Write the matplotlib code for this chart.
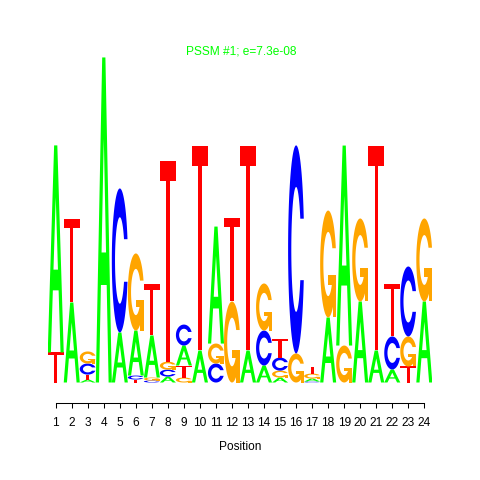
import numpy as np
import matplotlib
matplotlib.use("Agg")
import matplotlib.pyplot as plt

plt.rcParams['font.family'] = ['Liberation Sans', 'DejaVu Sans']

positions = list(range(1, 25))
bits_A = [1.255, 0.485, 0.018, 1.970, 0.303, 0.273, 0.255, 0.036, 0.121, 0.194, 0.709, 0.0,
          0.194, 0.103, 0.030, 0.0, 0.018, 0.394, 1.212, 0.491, 0.194, 0.079, 0.0, 0.491]
bits_C = [0.0, 0.0, 0.067, 0.0, 0.873, 0.024, 0.012, 0.042, 0.127, 0.0, 0.115, 0.0,
          0.0, 0.212, 0.079, 1.261, 0.006, 0.0, 0.0, 0.0, 0.0, 0.200, 0.424, 0.0]
bits_G = [0.0, 0.0, 0.073, 0.0, 0.0, 0.467, 0.018, 0.048, 0.030, 0.0, 0.121, 0.491,
          0.0, 0.285, 0.042, 0.176, 0.030, 0.648, 0.224, 0.503, 0.0, 0.0, 0.182, 0.503]
bits_T = [0.182, 0.503, 0.030, 0.0, 0.0, 0.018, 0.309, 1.218, 0.073, 1.242, 0.0, 0.503,
          1.242, 0.0, 0.115, 0.0, 0.042, 0.0, 0.0, 0.0, 1.242, 0.321, 0.097, 0.0]
title = "PSSM #1; e=7.3e-08"
xlabel = "Position"

colors = {"A": "#00FF00", "C": "#0000FF", "G": "#FFA500", "T": "#FF0000"}


def ring_c(inner=0.3):
    """Outline of a C in a unit box (seqLogo style polygon)."""
    a1 = np.linspace(0.3 + np.pi / 2, np.pi, 100)
    a2 = np.linspace(np.pi, 1.5 * np.pi, 100)
    xl1, yl1 = 0.5 + 0.5 * np.sin(a1), 0.5 + 0.5 * np.cos(a1)
    xl2, yl2 = 0.5 + 0.5 * np.sin(a2), 0.5 + 0.5 * np.cos(a2)
    xl = np.concatenate([xl1, xl2])
    yl = np.concatenate([yl1, yl2])
    x = np.concatenate([xl, xl[::-1]])
    y = np.concatenate([yl, 1 - yl[::-1]])
    xi1, yi1 = 0.5 + inner * np.sin(a1), 0.5 + inner * np.cos(a1)
    keep = yi1 <= yl1.max()
    xi1, yi1 = xi1[keep], yi1[keep].copy()
    yi1[0] = yl1.max()
    xi2, yi2 = 0.5 + inner * np.sin(a2), 0.5 + inner * np.cos(a2)
    xi = np.concatenate([xi1, xi2])
    yi = np.concatenate([yi1, yi2])
    x1 = np.concatenate([xi, xi[::-1]])
    y1 = np.concatenate([yi, 1 - yi[::-1]])
    return np.concatenate([x, x1[::-1]]), np.concatenate([y, y1[::-1]]), xl1.max()


def letter_shapes(letter):
    """List of (x, y, fill) polygons in a unit box; fill None -> letter colour."""
    if letter == "A":
        ox = np.array([0, 4, 6, 10, 8, 6.8, 3.2, 2, 0]) / 10
        oy = np.array([0, 10, 10, 0, 0, 3, 3, 0, 0]) / 10
        ix = np.array([3.6, 5, 6.4, 3.6]) / 10
        iy = np.array([4, 7.5, 4, 4]) / 10
        return [(ox, oy, None), (ix, iy, "white")]
    if letter == "T":
        x = np.array([0, 10, 10, 6, 6, 4, 4, 0]) / 10
        y = np.array([10, 10, 9, 9, 0, 0, 9, 9]) / 10
        return [(x, y, None)]
    x, y, r1 = ring_c()
    if letter == "C":
        return [(x, y, None)]
    h1 = 0.4
    xa = np.array([r1, 0.5, 0.5, r1 - 0.2, r1 - 0.2, r1, r1])
    ya = np.array([h1, h1, h1 - 0.1, h1 - 0.1, 0, 0, h1])
    return [(x, y, None), (xa, ya, None)]


def draw_letter(ax, letter, x0, y0, wt, ht):
    for px, py, fill in letter_shapes(letter):
        ax.fill(x0 + wt * px, y0 + ht * py, color=fill or colors[letter],
                linewidth=0, edgecolor="none")


fig = plt.figure(figsize=(4.8, 4.8), dpi=100)
ax = fig.add_axes([0.0994, (480 - 382.5) / 480, 0.8013, 330 / 480])

for i, pos in enumerate(positions):
    col = {"A": bits_A[i], "C": bits_C[i], "G": bits_G[i], "T": bits_T[i]}
    y = 0.0
    for letter, h in sorted(col.items(), key=lambda kv: kv[1]):
        if h <= 0:
            continue
        draw_letter(ax, letter, pos - 0.5, y, 1.0, h)
        y += h

ax.set_xlim(0.5, 24.5)
ax.set_ylim(0, 2)
for side in ["top", "left", "right"]:
    ax.spines[side].set_visible(False)
ax.spines["bottom"].set_position(("outward", 15.1))
ax.spines["bottom"].set_bounds(1, 24)
ax.spines["bottom"].set_linewidth(0.75)
ax.set_yticks([])
ax.set_xticks(positions)
ax.set_xticklabels([str(p) for p in positions])
ax.tick_params(axis="x", direction="out", length=3.6, width=0.75, pad=6, labelsize=8.6)
ax.set_xlabel(xlabel, fontsize=8.6, labelpad=8.5)

fig.text(241 / 480, 1 - 52 / 480, title, color="#00FF00", fontsize=8.6,
         ha="center", va="center")

fig.savefig("out.png", dpi=100)
